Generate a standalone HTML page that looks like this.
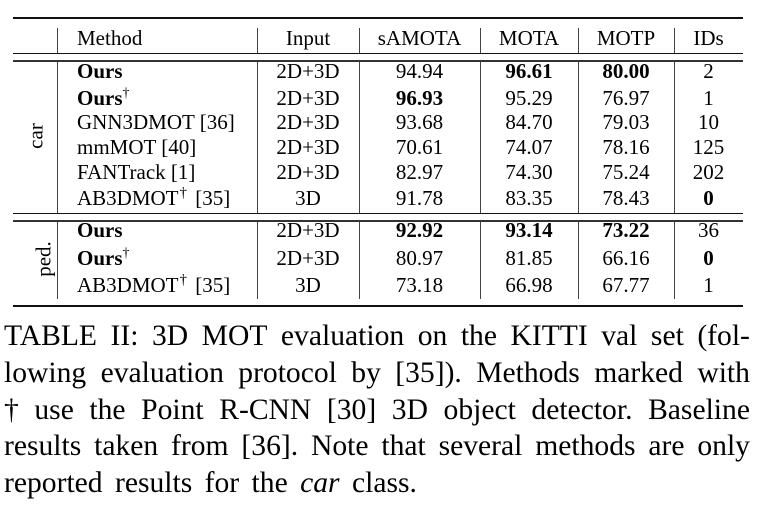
<!DOCTYPE html>
<html><head><meta charset="utf-8">
<style>
html,body{margin:0;padding:0;background:#fff;}
body{width:763px;height:511px;position:relative;overflow:hidden;font-family:"Liberation Serif","DejaVu Serif",serif;color:#000;}
.h{position:absolute;background:#111;}
.v{position:absolute;width:1px;background:#444;}
.t{position:absolute;font-size:21px;line-height:21px;white-space:nowrap;}
.c{text-align:center;transform:translateX(-50%);}
.b{font-weight:bold;}
sup{font-size:14px;line-height:0;vertical-align:0;position:relative;top:-8px;}
sup.d{font-size:15px;margin-left:1px;margin-right:3px;}
.cap{position:absolute;left:4px;width:746px;font-size:29.6px;line-height:29px;display:flex;justify-content:space-between;white-space:nowrap;}
.rot{position:absolute;font-size:21px;line-height:21px;transform:translate(-50%,-50%) rotate(-90deg);white-space:nowrap;}
</style></head><body>
<!-- rules -->
<div class="h" style="left:13px;top:17px;width:730px;height:2px;"></div>
<div class="h" style="left:13px;top:53px;width:730px;height:1px;"></div>
<div class="h" style="left:13px;top:60px;width:730px;height:2px;background:#333"></div>
<div class="h" style="left:13px;top:213px;width:730px;height:1px;"></div>
<div class="h" style="left:13px;top:220px;width:730px;height:2px;background:#333"></div>
<div class="h" style="left:13px;top:305px;width:730px;height:2px;"></div>
<!-- vertical lines header -->
<div class="v" style="left:57px;top:28px;height:25px;"></div>
<div class="v" style="left:257px;top:28px;height:25px;"></div>
<div class="v" style="left:359px;top:28px;height:25px;"></div>
<div class="v" style="left:480px;top:28px;height:25px;"></div>
<div class="v" style="left:578px;top:28px;height:25px;"></div>
<div class="v" style="left:674px;top:28px;height:25px;"></div>
<!-- car section -->
<div class="v" style="left:57px;top:62px;height:151px;"></div>
<div class="v" style="left:257px;top:62px;height:151px;"></div>
<div class="v" style="left:359px;top:62px;height:151px;"></div>
<div class="v" style="left:480px;top:62px;height:151px;"></div>
<div class="v" style="left:578px;top:62px;height:151px;"></div>
<div class="v" style="left:674px;top:62px;height:151px;"></div>
<!-- ped section -->
<div class="v" style="left:57px;top:222px;height:77px;"></div>
<div class="v" style="left:257px;top:222px;height:77px;"></div>
<div class="v" style="left:359px;top:222px;height:77px;"></div>
<div class="v" style="left:480px;top:222px;height:77px;"></div>
<div class="v" style="left:578px;top:222px;height:77px;"></div>
<div class="v" style="left:674px;top:222px;height:77px;"></div>

<!-- header -->
<div class="t" style="left:77px;top:28.4px">Method</div>
<div class="t c" style="left:308px;top:28.4px">Input</div>
<div class="t c" style="left:419.5px;top:28.4px">sAMOTA</div>
<div class="t c" style="left:529px;top:28.4px">MOTA</div>
<div class="t c" style="left:626px;top:28.4px">MOTP</div>
<div class="t c" style="left:708.5px;top:28.4px">IDs</div>

<div class="rot" style="left:36px;top:136px">car</div>
<div class="rot" style="left:44px;top:259px">ped.</div>

<!-- row 1 -->
<div class="t b" style="left:77px;top:61.4px">Ours</div>
<div class="t c" style="left:308px;top:61.4px">2D+3D</div>
<div class="t c" style="left:419.5px;top:61.4px">94.94</div>
<div class="t c b" style="left:529px;top:61.4px">96.61</div>
<div class="t c b" style="left:626px;top:61.4px">80.00</div>
<div class="t c" style="left:708.5px;top:61.4px">2</div>
<!-- row 2 -->
<div class="t b" style="left:77px;top:88.4px">Ours<sup style="font-weight:normal">†</sup></div>
<div class="t c" style="left:308px;top:88.4px">2D+3D</div>
<div class="t c b" style="left:419.5px;top:88.4px">96.93</div>
<div class="t c" style="left:529px;top:88.4px">95.29</div>
<div class="t c" style="left:626px;top:88.4px">76.97</div>
<div class="t c" style="left:708.5px;top:88.4px">1</div>
<!-- row 3 -->
<div class="t" style="left:77px;top:112.4px">GNN3DMOT [36]</div>
<div class="t c" style="left:308px;top:112.4px">2D+3D</div>
<div class="t c" style="left:419.5px;top:112.4px">93.68</div>
<div class="t c" style="left:529px;top:112.4px">84.70</div>
<div class="t c" style="left:626px;top:112.4px">79.03</div>
<div class="t c" style="left:708.5px;top:112.4px">10</div>
<!-- row 4 -->
<div class="t" style="left:77px;top:137.4px">mmMOT [40]</div>
<div class="t c" style="left:308px;top:137.4px">2D+3D</div>
<div class="t c" style="left:419.5px;top:137.4px">70.61</div>
<div class="t c" style="left:529px;top:137.4px">74.07</div>
<div class="t c" style="left:626px;top:137.4px">78.16</div>
<div class="t c" style="left:708.5px;top:137.4px">125</div>
<!-- row 5 -->
<div class="t" style="left:77px;top:161.7px">FANTrack [1]</div>
<div class="t c" style="left:308px;top:161.7px">2D+3D</div>
<div class="t c" style="left:419.5px;top:161.7px">82.97</div>
<div class="t c" style="left:529px;top:161.7px">74.30</div>
<div class="t c" style="left:626px;top:161.7px">75.24</div>
<div class="t c" style="left:708.5px;top:161.7px">202</div>
<!-- row 6 -->
<div class="t" style="left:77px;top:188.4px">AB3DMOT<sup class="d">†</sup> [35]</div>
<div class="t c" style="left:308px;top:188.4px">3D</div>
<div class="t c" style="left:419.5px;top:188.4px">91.78</div>
<div class="t c" style="left:529px;top:188.4px">83.35</div>
<div class="t c" style="left:626px;top:188.4px">78.43</div>
<div class="t c b" style="left:708.5px;top:188.4px">0</div>

<!-- ped rows -->
<div class="t b" style="left:77px;top:220.1px">Ours</div>
<div class="t c" style="left:308px;top:220.1px">2D+3D</div>
<div class="t c b" style="left:419.5px;top:220.1px">92.92</div>
<div class="t c b" style="left:529px;top:220.1px">93.14</div>
<div class="t c b" style="left:626px;top:220.1px">73.22</div>
<div class="t c" style="left:708.5px;top:220.1px">36</div>

<div class="t b" style="left:77px;top:247.7px">Ours<sup style="font-weight:normal">†</sup></div>
<div class="t c" style="left:308px;top:247.7px">2D+3D</div>
<div class="t c" style="left:419.5px;top:247.7px">80.97</div>
<div class="t c" style="left:529px;top:247.7px">81.85</div>
<div class="t c" style="left:626px;top:247.7px">66.16</div>
<div class="t c b" style="left:708.5px;top:247.7px">0</div>

<div class="t" style="left:77px;top:275.1px">AB3DMOT<sup class="d">†</sup> [35]</div>
<div class="t c" style="left:308px;top:275.1px">3D</div>
<div class="t c" style="left:419.5px;top:275.1px">73.18</div>
<div class="t c" style="left:529px;top:275.1px">66.98</div>
<div class="t c" style="left:626px;top:275.1px">67.77</div>
<div class="t c" style="left:708.5px;top:275.1px">1</div>

<!-- caption -->
<div class="cap" style="top:322.2px"><span>TABLE</span><span>II:</span><span>3D</span><span>MOT</span><span>evaluation</span><span>on</span><span>the</span><span>KITTI</span><span>val</span><span>set</span><span>(fol-</span></div>
<div class="cap" style="top:358.5px"><span>lowing</span><span>evaluation</span><span>protocol</span><span>by</span><span>[35]).</span><span>Methods</span><span>marked</span><span>with</span></div>
<div class="cap" style="top:395.5px"><span>†</span><span>use</span><span>the</span><span>Point</span><span>R-CNN</span><span>[30]</span><span>3D</span><span>object</span><span>detector.</span><span>Baseline</span></div>
<div class="cap" style="top:432.2px"><span>results</span><span>taken</span><span>from</span><span>[36].</span><span>Note</span><span>that</span><span>several</span><span>methods</span><span>are</span><span>only</span></div>
<div style="position:absolute;left:4px;top:468.5px;font-size:29.6px;line-height:29px;white-space:nowrap;word-spacing:5px;">reported results for the <i>car</i> class.</div>
</body></html>
